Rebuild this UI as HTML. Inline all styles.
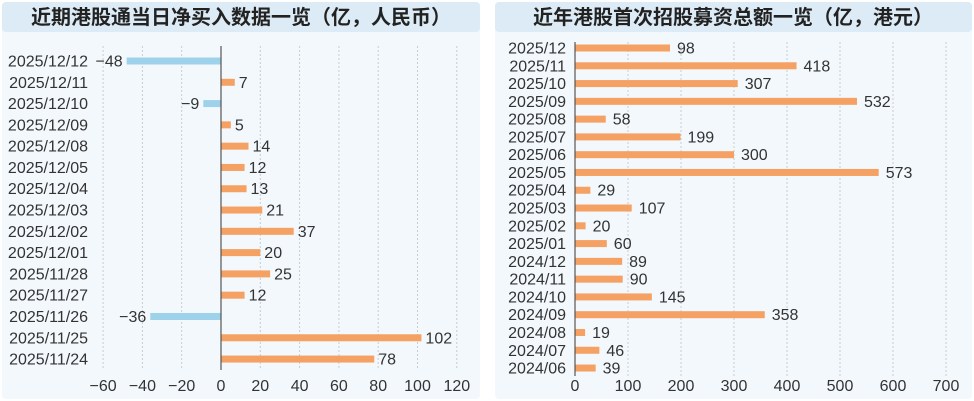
<!DOCTYPE html>
<html><head><meta charset="utf-8"><style>
html,body{margin:0;padding:0;background:#fff;width:974px;height:401px;overflow:hidden}
svg{display:block;font-family:"Liberation Sans","Noto Sans CJK SC",sans-serif}
</style></head><body>
<svg id="s" width="974" height="401" xmlns="http://www.w3.org/2000/svg">
<rect x="2" y="2" width="478" height="397" fill="#f3f8fc" rx="4"/>
<rect x="2" y="2" width="478" height="30" fill="#dcebf5" rx="4"/>
<text x="241" y="24" text-anchor="middle" font-size="20" font-weight="bold" fill="#222" font-family="'Noto Sans CJK SC',sans-serif">近期港股通当日净买入数据一览（亿，人民币）</text>
<rect x="495" y="2" width="477" height="397" fill="#f3f8fc" rx="4"/>
<rect x="495" y="2" width="477" height="30" fill="#dcebf5" rx="4"/>
<text x="733" y="24" text-anchor="middle" font-size="20" font-weight="bold" fill="#222" font-family="'Noto Sans CJK SC',sans-serif">近年港股首次招股募资总额一览（亿，港元）</text>
<g id="g"></g>
</svg>
<script>
var g=document.getElementById('g'),h='';
var L=["2025/12/12","2025/12/11","2025/12/10","2025/12/09","2025/12/08","2025/12/05","2025/12/04","2025/12/03","2025/12/02","2025/12/01","2025/11/28","2025/11/27","2025/11/26","2025/11/25","2025/11/24"];
var LV=[-48,7,-9,5,14,12,13,21,37,20,25,12,-36,102,78];
var z=221,k=1.965;
for(var t=-60;t<=120;t+=20){var x=z+t*k;
 if(t!=0)h+='<line x1="'+x+'" y1="46" x2="'+x+'" y2="370" stroke="#c8ccd0" stroke-dasharray="2,2"/>';
 h+='<text x="'+x+'" y="391" text-anchor="middle" font-size="16" fill="#333">'+(t<0?'\u2212'+(-t):t)+'</text>';}
for(var i=0;i<15;i++){var y=61+21.29*i,v=LV[i],w=Math.abs(v)*k;
 h+='<text x="88" y="'+(y+5.5)+'" text-anchor="end" font-size="16" fill="#333">'+L[i]+'</text>';
 if(v<0){h+='<rect x="'+(z-w)+'" y="'+(y-3.5)+'" width="'+w+'" height="7" fill="#9dd2ea"/>';
  h+='<text x="'+(z-w-4)+'" y="'+(y+5.5)+'" text-anchor="end" font-size="16" fill="#333">\u2212'+(-v)+'</text>';}
 else{h+='<rect x="'+z+'" y="'+(y-3.5)+'" width="'+w+'" height="7" fill="#f4a163"/>';
  h+='<text x="'+(z+w+4)+'" y="'+(y+5.5)+'" font-size="16" fill="#333">'+v+'</text>';}}
h+='<line x1="'+z+'" y1="46" x2="'+z+'" y2="370" stroke="#555" stroke-width="1.2"/>';
var R=["2025/12","2025/11","2025/10","2025/09","2025/08","2025/07","2025/06","2025/05","2025/04","2025/03","2025/02","2025/01","2024/12","2024/11","2024/10","2024/09","2024/08","2024/07","2024/06"];
var RV=[98,418,307,532,58,199,300,573,29,107,20,60,89,90,145,358,19,46,39];
var z2=575,k2=0.53;
for(var t=0;t<=700;t+=100){var x=z2+t*k2;
 if(t)h+='<line x1="'+x+'" y1="42" x2="'+x+'" y2="376" stroke="#c8ccd0" stroke-dasharray="2,2"/>';
 h+='<text x="'+x+'" y="391" text-anchor="middle" font-size="16" fill="#333">'+t+'</text>';}
for(var i=0;i<19;i++){var y=48+17.78*i,v=RV[i],w=(i==0?95:v*k2);
 h+='<text x="566" y="'+(y+5.5)+'" text-anchor="end" font-size="16" fill="#333">'+R[i]+'</text>';
 h+='<rect x="'+z2+'" y="'+(y-3.5)+'" width="'+w+'" height="7" fill="#f4a163"/>';
 h+='<text x="'+(z2+w+7)+'" y="'+(y+5.5)+'" font-size="16" fill="#333">'+v+'</text>';}
h+='<line x1="'+z2+'" y1="42" x2="'+z2+'" y2="376" stroke="#555" stroke-width="1.2"/>';
g.innerHTML=h;
</script>
</body></html>
